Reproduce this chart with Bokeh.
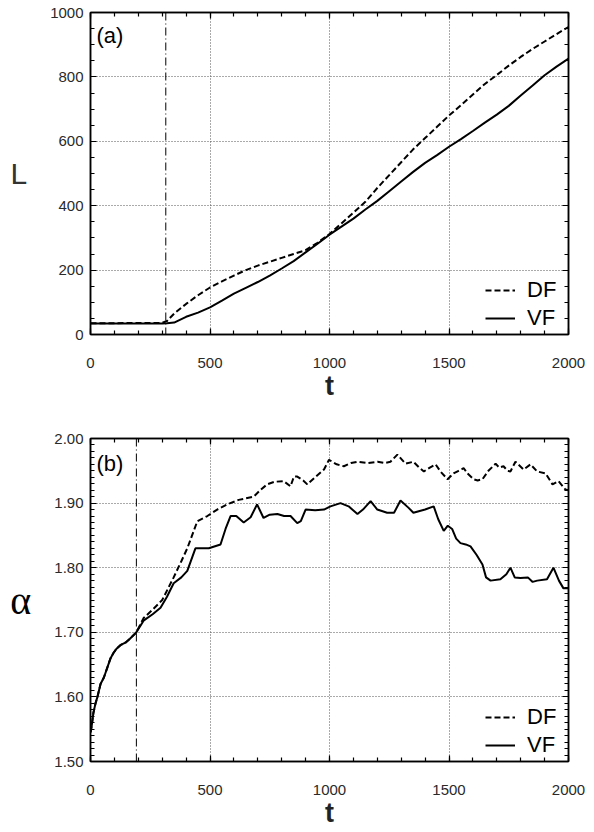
from bokeh.plotting import figure
from bokeh.layouts import column
from bokeh.models import (Range1d, LinearAxis, SingleIntervalTicker, FixedTicker,
                          NumeralTickFormatter, CustomJSTickFormatter, Label, Span,
                          Legend, LegendItem)
from bokeh.embed import file_html
from bokeh.resources import INLINE

# ---------------- data: panel (a) ----------------
t_a = [0, 100, 200, 300, 320, 350, 400, 450, 500, 550, 600, 650, 700, 750, 800, 850, 900, 950,
       1000, 1050, 1100, 1150, 1200, 1250, 1300, 1350, 1400, 1450, 1500, 1550, 1600, 1650,
       1700, 1750, 1800, 1850, 1900, 1950, 2000]
L_df = [35, 35, 36, 36, 42, 65, 95, 122, 146, 165, 183, 200, 214, 226, 238, 250, 262, 285,
        312, 345, 378, 412, 455, 495, 535, 575, 610, 645, 680, 712, 745, 778,
        806, 835, 862, 887, 910, 933, 955]
L_vf = [34, 34, 34, 34, 35, 37, 55, 68, 84, 105, 127, 145, 163, 183, 205, 228, 255, 282,
        310, 335, 360, 388, 415, 445, 475, 505, 533, 557, 583, 607, 632, 658,
        683, 710, 742, 773, 805, 832, 857]
onset_a = 315

# ---------------- data: panel (b) ----------------
t_b_vf = [0, 5, 12, 21, 29, 42, 56, 70, 84, 96, 110, 125, 146, 165, 192, 222, 260, 293, 320,
          348, 380, 405, 439, 495, 544, 565,
          586, 610, 641, 670, 697, 724, 750, 782, 810, 837, 865, 880, 900, 940, 977, 1004,
          1046, 1080, 1117, 1140, 1172, 1200, 1241, 1270, 1297, 1330, 1351, 1400, 1436, 1455,
          1478, 1495, 1513, 1530, 1548, 1570, 1590, 1615, 1640, 1655, 1674, 1715, 1740, 1757,
          1775, 1799, 1830, 1850, 1869, 1910, 1937, 1960, 1979, 2000]
a_vf = [1.545, 1.555, 1.575, 1.59, 1.60, 1.62, 1.63, 1.645, 1.66, 1.668, 1.675, 1.68, 1.684,
        1.69, 1.70, 1.718, 1.728, 1.738, 1.755, 1.776, 1.785,
        1.795, 1.83, 1.83, 1.836, 1.86, 1.88, 1.88, 1.87, 1.878, 1.898, 1.877, 1.882, 1.883,
        1.88, 1.88, 1.869, 1.872, 1.89, 1.889, 1.89, 1.895, 1.90, 1.895, 1.883, 1.89, 1.903,
        1.89, 1.885, 1.885, 1.904, 1.893, 1.885, 1.89, 1.895, 1.875, 1.857, 1.865, 1.86,
        1.845, 1.838, 1.836, 1.833, 1.82, 1.805, 1.785, 1.78, 1.782, 1.79, 1.80, 1.785,
        1.784, 1.785, 1.778, 1.78, 1.782, 1.80, 1.78, 1.768, 1.768]
t_b_df = [0, 5, 12, 21, 29, 42, 56, 70, 84, 96, 110, 125, 146, 165, 192, 222, 260, 300, 348,
          380, 405, 447, 489, 530, 572, 620,
          683, 710, 739, 770, 808, 837, 851, 865, 890, 907, 940, 977, 998, 1030, 1060, 1090,
          1117, 1160, 1201, 1230, 1255, 1284, 1318, 1351, 1375, 1395, 1420, 1444, 1464, 1494,
          1519, 1540, 1561, 1580, 1603, 1620, 1640, 1665, 1695, 1710, 1728, 1745, 1757, 1778,
          1812, 1841, 1869, 1904, 1933, 1958, 1987, 2000]
a_df = [1.545, 1.555, 1.575, 1.59, 1.60, 1.62, 1.63, 1.645, 1.66, 1.668, 1.675, 1.68, 1.684,
        1.69, 1.70, 1.722, 1.735, 1.75, 1.785, 1.81, 1.83,
        1.872, 1.88, 1.89, 1.898, 1.905, 1.91, 1.92, 1.929, 1.933, 1.934, 1.926, 1.941, 1.941,
        1.935, 1.929, 1.94, 1.952, 1.967, 1.96, 1.957, 1.962, 1.964, 1.962, 1.964, 1.962,
        1.964, 1.975, 1.961, 1.964, 1.955, 1.949, 1.955, 1.96, 1.949, 1.937, 1.946, 1.95,
        1.954, 1.945, 1.937, 1.935, 1.937, 1.95, 1.961, 1.955, 1.957, 1.95, 1.949, 1.964,
        1.952, 1.96, 1.949, 1.946, 1.929, 1.934, 1.921, 1.92]
onset_b = 192

FONT = "Liberation Sans"
TICK_COLOR = "#2a2a2a"


def style(p, yticker, ygrid_ticks, ylabel, ylabel_font, ylabel_size, ylabel_color,
          yfmt=None):
    bottom = p.below[0]
    left = p.left[0]
    xticker = SingleIntervalTicker(interval=500, num_minor_ticks=5)
    bottom.ticker = xticker
    left.ticker = yticker
    if yfmt is not None:
        left.formatter = yfmt
    # extra axes for inward ticks on top and right
    top = LinearAxis(ticker=xticker, formatter=CustomJSTickFormatter(code="return ''"))
    right = LinearAxis(ticker=yticker, formatter=CustomJSTickFormatter(code="return ''"))
    for ax in (top, right):
        ax.major_label_standoff = 0
    p.add_layout(top, "above")
    p.add_layout(right, "right")
    for ax in (bottom, left, top, right):
        ax.major_tick_in = 6
        ax.major_tick_out = 0
        ax.minor_tick_in = 4
        ax.minor_tick_out = 0
        ax.axis_line_color = "black"
        ax.axis_line_width = 1.5
        ax.major_tick_line_color = "black"
        ax.minor_tick_line_color = "black"
        ax.major_tick_line_width = 1.2
        ax.minor_tick_line_width = 1.2
    for ax in (bottom, left):
        ax.major_label_text_font = FONT
        ax.major_label_text_font_size = "15px"
        ax.major_label_text_color = TICK_COLOR
    bottom.major_label_standoff = 23
    left.major_label_standoff = 7
    bottom.axis_label = "t"
    bottom.axis_label_text_font = FONT
    bottom.axis_label_text_font_size = "27px"
    bottom.axis_label_text_font_style = "bold"
    bottom.axis_label_text_color = "#222222"
    bottom.axis_label_standoff = 0
    left.axis_label = ylabel
    left.axis_label_text_font = ylabel_font
    left.axis_label_text_font_size = ylabel_size
    left.axis_label_text_font_style = "normal"
    left.axis_label_text_color = ylabel_color
    left.axis_label_standoff = 20
    try:
        left.axis_label_orientation = "horizontal"
    except Exception:
        pass
    p.xgrid.ticker = FixedTicker(ticks=[500, 1000, 1500])
    p.ygrid.ticker = FixedTicker(ticks=ygrid_ticks)
    for g in (p.xgrid[0], p.ygrid[0]):
        g.grid_line_color = "#555555"
        g.grid_line_dash = "1 2"
        g.grid_line_width = 1
    p.outline_line_color = "black"
    p.outline_line_width = 1.5
    p.background_fill_color = "white"
    p.border_fill_color = "white"


def add_legend(p, r_df, r_vf):
    legend = Legend(items=[LegendItem(label="DF", renderers=[r_df]),
                           LegendItem(label="VF", renderers=[r_vf])],
                    location=(395, 2))
    legend.border_line_color = None
    legend.background_fill_alpha = 0
    legend.padding = 0
    legend.margin = 0
    legend.spacing = 0
    legend.glyph_width = 30
    legend.glyph_height = 28
    legend.label_height = 28
    legend.label_standoff = 12
    legend.label_text_font = FONT
    legend.label_text_font_size = "22px"
    legend.label_text_color = "black"
    p.add_layout(legend, "center")


# ---------------- panel (a) ----------------
pa = figure(frame_width=478, frame_height=322, min_border_left=90, min_border_right=24,
            min_border_top=12, min_border_bottom=84,
            x_range=Range1d(0, 2000), y_range=Range1d(0, 1000),
            output_backend="svg", toolbar_location=None)
style(pa, SingleIntervalTicker(interval=200, num_minor_ticks=4), [200, 400, 600, 800],
      "L", FONT, "30px", "#333333")
pa.add_layout(Span(location=onset_a, dimension="height", line_color="black",
                   line_width=1, line_dash="8 3 1 3"))
ra_df = pa.line(t_a, L_df, line_color="black", line_width=2, line_dash="6 3")
ra_vf = pa.line(t_a, L_vf, line_color="black", line_width=2)
add_legend(pa, ra_df, ra_vf)
pa.add_layout(Label(x=25, y=966, text="(a)", text_font=FONT, text_font_size="22px",
                    text_baseline="top", text_color="black"))

# ---------------- panel (b) ----------------
pb = figure(frame_width=478, frame_height=323, min_border_left=90, min_border_right=24,
            min_border_top=20, min_border_bottom=63,
            x_range=Range1d(0, 2000), y_range=Range1d(1.5, 2.0),
            output_backend="svg", toolbar_location=None)
style(pb, SingleIntervalTicker(interval=0.1, num_minor_ticks=10), [1.6, 1.7, 1.8, 1.9],
      "\u03b1", "Liberation Serif", "40px", "black", NumeralTickFormatter(format="0.00"))
pb.add_layout(Span(location=onset_b, dimension="height", line_color="black",
                   line_width=1, line_dash="8 3 1 3"))
rb_df = pb.line(t_b_df, a_df, line_color="black", line_width=2, line_dash="6 3")
rb_vf = pb.line(t_b_vf, a_vf, line_color="black", line_width=2)
add_legend(pb, rb_df, rb_vf)
pb.add_layout(Label(x=25, y=1.98, text="(b)", text_font=FONT, text_font_size="22px",
                    text_baseline="top", text_color="black"))

layout = column(pa, pb, spacing=0)
open("out.html", "w").write(file_html(layout, INLINE))
